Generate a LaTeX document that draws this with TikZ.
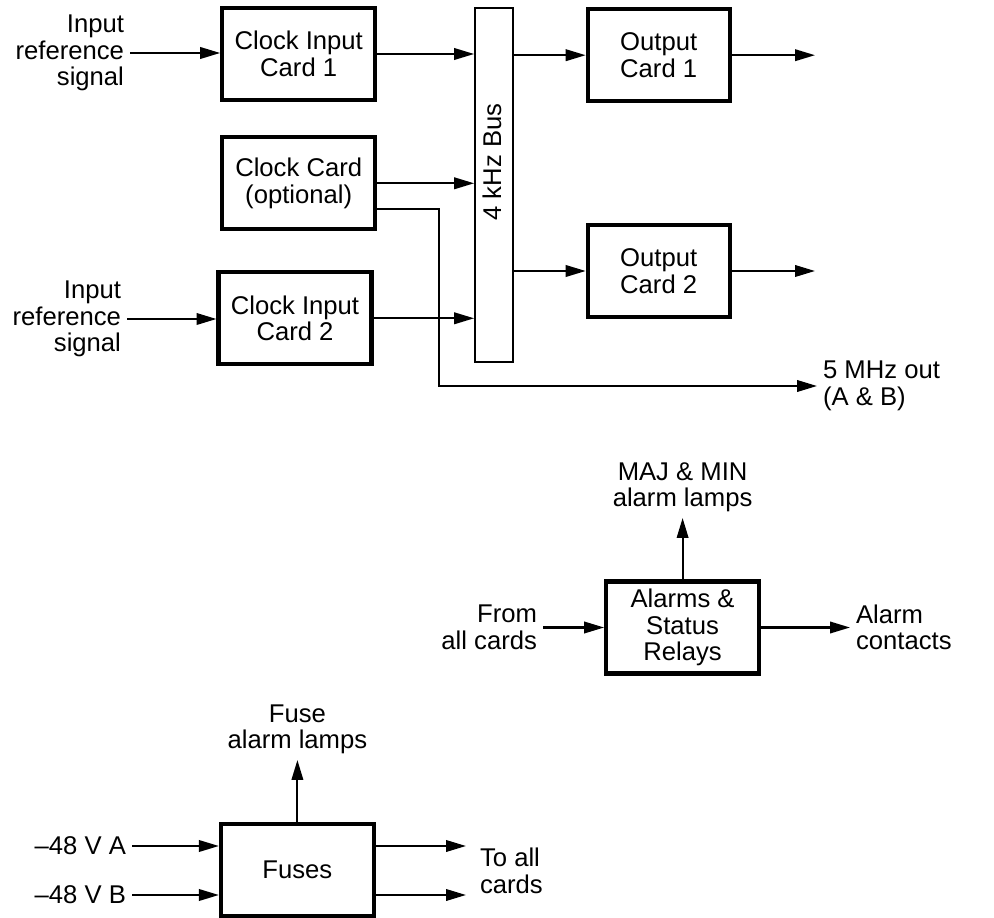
\documentclass[tikz,border=0pt]{standalone}
\usepackage{fontspec}
\setmainfont{Liberation Sans}
\usetikzlibrary{arrows.meta,positioning,calc}

\begin{document}
\begin{tikzpicture}[
    x=0.02cm, y=-0.02cm,
    font=\fontsize{14.6pt}{15.1pt}\selectfont,
    card/.style={rectangle, draw, line width=2.3pt, minimum width=3.06cm, minimum height=1.84cm, inner sep=0pt, align=center},
    txt/.style={inner sep=0.1cm},
    >={Triangle[length=0.4cm, width=0.23cm]}, line width=1.2pt
]
    \useasboundingbox (0,0) rectangle (994,918);

    % clock cards and bus
    \node[card] (cin1) at (298.7,54) {Clock Input\\Card 1};
    \node[card] (clk) at (298.7,183.3) {Clock Card\\(optional)};
    \node[card] (cin2) at (295,318.3) {Clock Input\\Card 2};
    \node[draw, minimum width=0.76cm, minimum height=7.08cm, inner sep=0pt] (bus) at (494.2,185) {};
    \node[rotate=90] (buslbl) at (492,162) {4 kHz Bus};
    \node[card, minimum width=2.84cm] (out1) at (658.7,55.2) {Output\\Card 1};
    \node[card, minimum width=2.84cm] (out2) at (658.7,271) {Output\\Card 2};

    \node[txt, anchor=east, align=right] (in1) at (130,53) {Input\\reference\\signal};
    \node[txt, anchor=east, align=right] (in2) at (127,319) {Input\\reference\\signal};
    \node[txt, anchor=west, align=left] (mhz) at (817,386) {5 MHz out\\(A \& B)};
    \coordinate (o1end) at (815,55.2);
    \coordinate (o2end) at (815,271);

    \draw[->] (in1.east) -- (in1.east -| cin1.west);
    \draw[->] (in2.east) -- (in2.east -| cin2.west);
    \draw[->] (cin1.east) -- (cin1.east -| bus.west);
    \draw[->] (clk.east) -- (clk.east -| bus.west);
    \draw[->] (cin2.east) -- (cin2.east -| bus.west);
    \draw[->] ($(clk.east)+(0,26)$) -- ++(62,0) |- (mhz.west);
    \draw[->] (out1.west -| bus.east) -- (out1.west);
    \draw[->] (out2.west -| bus.east) -- (out2.west);
    \draw[->] (out1.east) -- (o1end);
    \draw[->] (out2.east) -- (o2end);

    % alarms
    \node[card] (alarm) at (682.6,627.5) {Alarms \&\\Status\\Relays};
    \node[txt, anchor=south, align=center] (majlamps) at (682.6,518) {MAJ \& MIN\\alarm lamps};
    \node[txt, anchor=east, align=right] (fromall) at (543,627.5) {From\\all cards};
    \node[txt, anchor=west, align=left] (contacts) at (850,627.5) {Alarm\\contacts};
    \draw[->] (alarm.north) -- (majlamps.south);
    \draw[->] (fromall.east) -- (alarm.west);
    \draw[->] (alarm.east) -- (contacts.west);

    % fuses
    \node[card] (fuses) at (297.4,870) {Fuses};
    \node[txt, anchor=south, align=center] (fuselamps) at (297.4,760) {Fuse\\alarm lamps};
    \node[txt, anchor=east] (va) at (132,846) {\textendash48 V A};
    \node[txt, anchor=east] (vb) at (132,895) {\textendash48 V B};
    \node[txt, anchor=west, align=left] (toall) at (474,871) {To all\\cards};
    \coordinate (toa) at (466,846);
    \coordinate (tob) at (466,895);
    \draw[->] (fuses.north) -- (fuselamps.south);
    \draw[->] (va.east) -- (va.east -| fuses.west);
    \draw[->] (vb.east) -- (vb.east -| fuses.west);
    \draw[->] (fuses.east |- toa) -- (toa);
    \draw[->] (fuses.east |- tob) -- (tob);
\end{tikzpicture}
\end{document}
